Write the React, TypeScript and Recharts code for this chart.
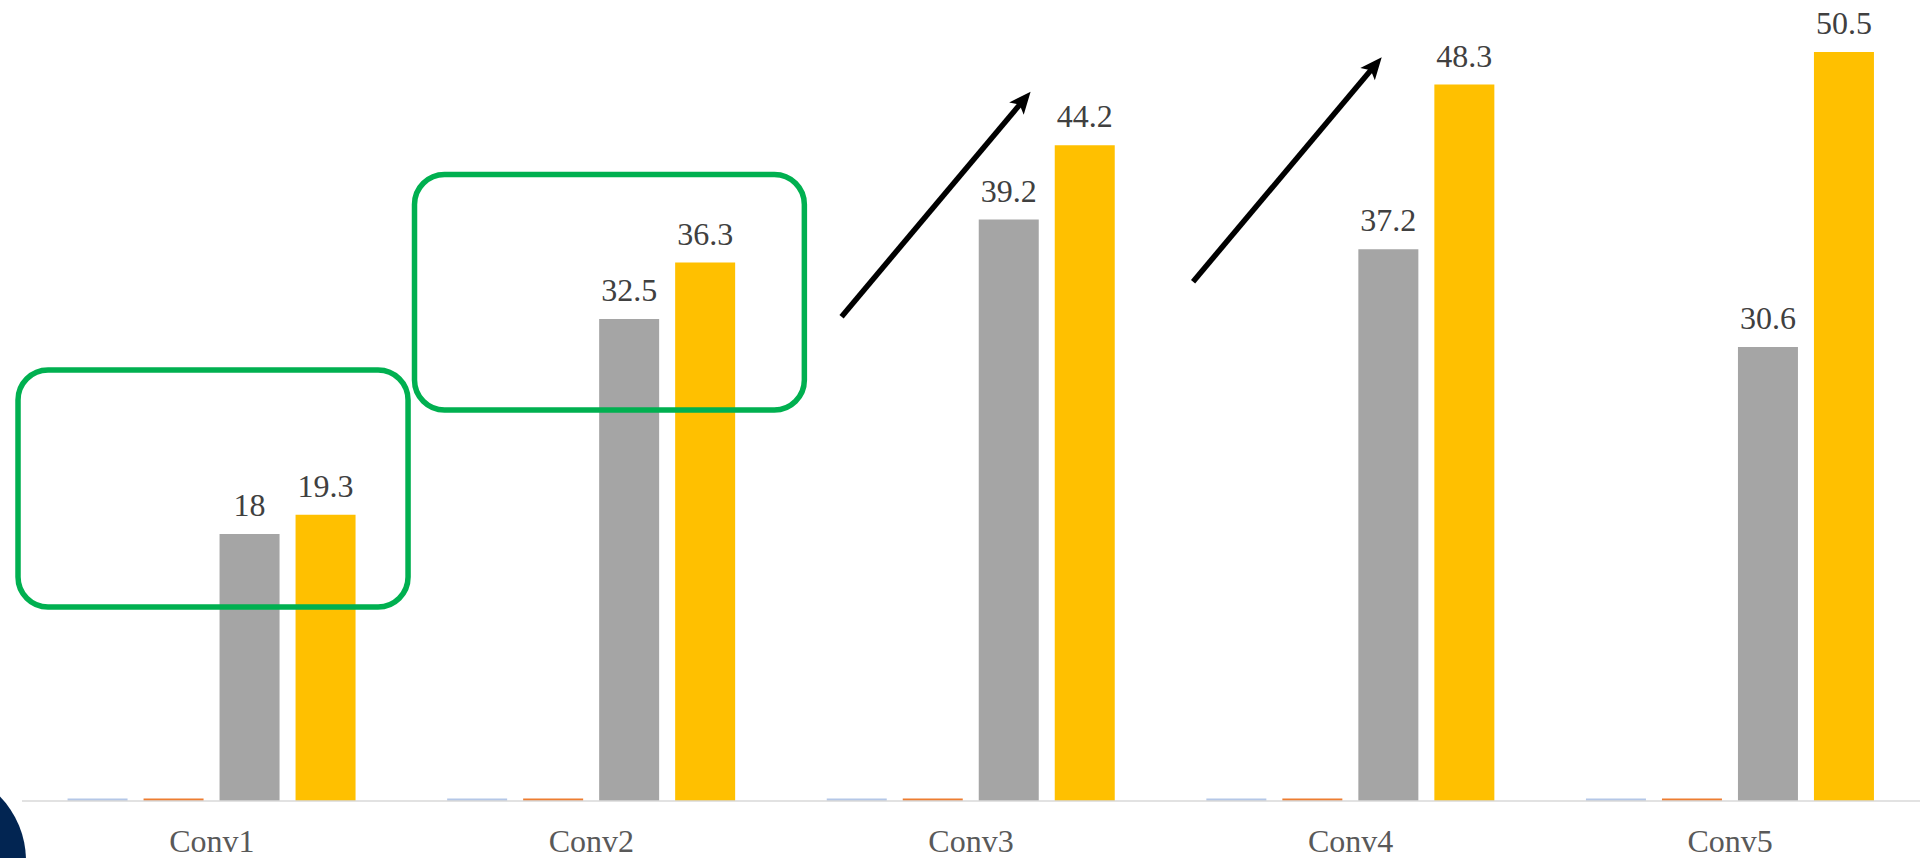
import React from 'react';
import { BarChart, Bar, XAxis, YAxis, LabelList, ReferenceArea, ReferenceLine } from 'recharts';

const categories = ['Conv1', 'Conv2', 'Conv3', 'Conv4', 'Conv5'];
const seriesBlue = [0, 0, 0, 0, 0];
const seriesOrange = [0, 0, 0, 0, 0];
const seriesGray = [18, 32.5, 39.2, 37.2, 30.6];
const seriesYellow = [19.3, 36.3, 44.2, 48.3, 50.5];
// centre of each category on a 0..5 annotation scale
const categoryCentres = [0.5, 1.5, 2.5, 3.5, 4.5];

const data = categories.map((name, i) => ({
  name,
  pos: categoryCentres[i],
  blue: seriesBlue[i],
  orange: seriesOrange[i],
  gray: seriesGray[i],
  yellow: seriesYellow[i],
}));

// Annotations: x in category-index units (0..5 across the plot), y in value units
const boxes = [
  { x1: -0.0105, x2: 1.017, y1: 13.08, y2: 29.06 },
  { x1: 1.034, x2: 2.061, y1: 26.36, y2: 42.24 },
];
const arrows = [
  { x1: 2.159, y1: 32.65, x2: 2.657, y2: 47.82 },
  { x1: 3.085, y1: 35.01, x2: 3.582, y2: 50.14 },
];

const FONT = "'Liberation Serif', 'Times New Roman', serif";

const RoundBox = (props: any) => {
  const { x, y, width, height } = props;
  return (
    <rect x={x} y={y} width={width} height={height} rx={30} ry={30}
      fill="none" stroke="#00B050" strokeWidth={5.5} />
  );
};

const ArrowShape = (props: any) => {
  const { x1, y1, x2, y2 } = props;
  const dx = x2 - x1;
  const dy = y2 - y1;
  const len = Math.sqrt(dx * dx + dy * dy) || 1;
  const ux = dx / len;
  const uy = dy / len;
  const headLen = 22;
  const headW = 9.5;
  const bx = x2 - ux * headLen;
  const by = y2 - uy * headLen;
  const px = -uy;
  const py = ux;
  const pts = `${x2},${y2} ${bx + px * headW},${by + py * headW} ${bx + ux * 5},${by + uy * 5} ${bx - px * headW},${by - py * headW}`;
  return (
    <g>
      <line x1={x1} y1={y1} x2={bx + ux * 6} y2={by + uy * 6} stroke="#000" strokeWidth={5.5} />
      <polygon points={pts} fill="#000" />
    </g>
  );
};

export default function App() {
  return (
    <div style={{ position: 'absolute', left: 0, top: 0, width: 1931, height: 858, overflow: 'hidden', background: '#fff' }}>
      <div style={{
        position: 'absolute', left: -157, top: 769, width: 183, height: 183,
        borderRadius: '50%', background: '#022552',
      }} />
      <div style={{ position: 'absolute', left: 0, top: 0 }}>
        <BarChart width={1931} height={858} data={data}
          margin={{ top: 0, right: 11, bottom: 0, left: 22 }}
          barCategoryGap="12%" barGap={16}>
          <XAxis dataKey="name" height={57} axisLine={{ stroke: '#D9D9D9', strokeWidth: 1.5 }}
            tickLine={false} tickSize={0} tickMargin={28}
            tick={{ fill: '#595959', fontSize: 32, fontFamily: FONT }} interval={0} />
          <XAxis xAxisId="ann" dataKey="pos" type="number" domain={[0, 5]} allowDataOverflow hide />
          <YAxis domain={[0, 54]} hide allowDataOverflow />
          <Bar dataKey="blue" fill="#B4C7E7" minPointSize={2.5} isAnimationActive={false} />
          <Bar dataKey="orange" fill="#ED7D31" minPointSize={2.5} isAnimationActive={false} />
          <Bar dataKey="gray" fill="#A5A5A5" isAnimationActive={false}>
            <LabelList dataKey="gray" position="top" offset={18} fill="#404040" fontSize={32} fontFamily={FONT} />
          </Bar>
          <Bar dataKey="yellow" fill="#FFC000" isAnimationActive={false}>
            <LabelList dataKey="yellow" position="top" offset={18} fill="#404040" fontSize={32} fontFamily={FONT} />
          </Bar>
          {boxes.map((b, i) => (
            <ReferenceArea key={`box${i}`} xAxisId="ann" x1={b.x1} x2={b.x2} y1={b.y1} y2={b.y2}
              ifOverflow="visible" shape={RoundBox} zIndex={1000} />
          ))}
          {arrows.map((a, i) => (
            <ReferenceLine key={`arr${i}`} xAxisId="ann"
              segment={[{ x: a.x1, y: a.y1 }, { x: a.x2, y: a.y2 }]}
              ifOverflow="visible" shape={ArrowShape} zIndex={1000} />
          ))}
        </BarChart>
      </div>
    </div>
  );
}
